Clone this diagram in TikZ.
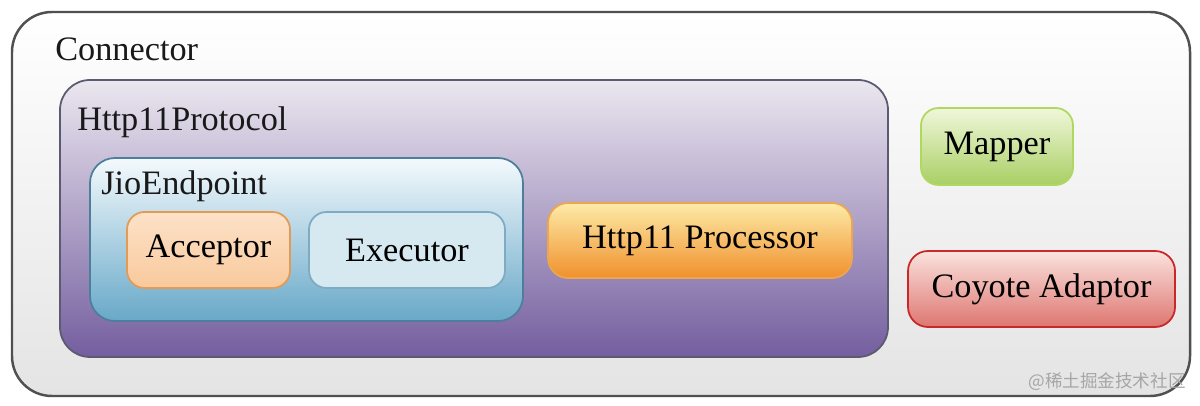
\documentclass[tikz,border=0pt]{standalone}
\usepackage{fontspec}
\setmainfont{Liberation Serif}
\newfontfamily\cjkfont{Noto Sans CJK SC}
\usepackage{xcolor}
\usetikzlibrary{
	positioning,
	calc
}

\definecolor{connline}{HTML}{505050}
\definecolor{connbot}{HTML}{E4E4E4}
\definecolor{protoline}{HTML}{5C5A70}
\definecolor{prototop}{HTML}{EBE7EF}
\definecolor{protobot}{HTML}{745E9F}
\definecolor{jioline}{HTML}{4D7F9C}
\definecolor{jiotop}{HTML}{F4FAFD}
\definecolor{jiobot}{HTML}{68A8C8}
\definecolor{accline}{HTML}{E39A55}
\definecolor{acctop}{HTML}{FDE2C8}
\definecolor{accbot}{HTML}{F8C99C}
\definecolor{exeline}{HTML}{7EAAC2}
\definecolor{exefill}{HTML}{D6E9F1}
\definecolor{procline}{HTML}{EDA54E}
\definecolor{proctop}{HTML}{FDEBA8}
\definecolor{procbot}{HTML}{F0902C}
\definecolor{mapline}{HTML}{B0D860}
\definecolor{maptop}{HTML}{F0F7DA}
\definecolor{mapbot}{HTML}{A9CF64}
\definecolor{coyline}{HTML}{C82828}
\definecolor{coytop}{HTML}{FAE2DE}
\definecolor{coybot}{HTML}{DE7670}

\tikzset{
	box/.style={rectangle, rounded corners=#1, inner sep=0pt, line width=1pt},
	lbl/.style={anchor=west, inner sep=0pt, text=black!90}
}

\begin{document}
\begin{tikzpicture}[font=\fontsize{19.5pt}{23pt}\selectfont]
	\useasboundingbox (0,0) rectangle (24,8.12);
	% containers
	\node[box=0.8cm, draw=connline, line width=1.4pt, top color=white, bottom color=connbot,
		minimum width=23.56cm, minimum height=7.68cm] (connector) at (12.02,4.04) {};
	\node[lbl] (connlbl) at (1.1,7.14) {Connector};
	\node[box=0.6cm, draw=protoline, top color=prototop, bottom color=protobot,
		minimum width=16.56cm, minimum height=5.54cm] (protocol) at (9.48,3.75) {};
	\node[lbl] (protolbl) at (1.54,5.68) {Http11Protocol};
	\node[box=0.5cm, draw=jioline, top color=jiotop, bottom color=jiobot,
		minimum width=8.66cm, minimum height=3.26cm] (endpoint) at (6.13,3.33) {};
	\node[lbl] (jiolbl) at (2.02,4.4) {JioEndpoint};
	% components
	\node[box=0.35cm, draw=accline, top color=acctop, bottom color=accbot,
		minimum width=3.26cm, minimum height=1.52cm] (acceptor) at (4.17,3.12) {Acceptor};
	\node[box=0.35cm, draw=exeline, fill=exefill,
		minimum width=3.92cm, minimum height=1.52cm] (executor) at (8.14,3.12) {Executor};
	\node[box=0.4cm, draw=procline, top color=proctop, bottom color=procbot,
		minimum width=6.08cm, minimum height=1.5cm] (processor) at (14.0,3.31) {Http11 Processor};
	\node[box=0.35cm, draw=mapline, top color=maptop, bottom color=mapbot,
		minimum width=3.04cm, minimum height=1.54cm] (mapper) at (19.94,5.19) {Mapper};
	\node[box=0.4cm, draw=coyline, top color=coytop, bottom color=coybot,
		minimum width=5.34cm, minimum height=1.52cm] (adaptor) at (20.83,2.34) {Coyote Adaptor};
	% watermark
	\node[text=black!35, font=\cjkfont\fontsize{10pt}{12pt}\selectfont] (mark) at (22.14,0.48) {@稀土掘金技术社区};
\end{tikzpicture}
\end{document}
